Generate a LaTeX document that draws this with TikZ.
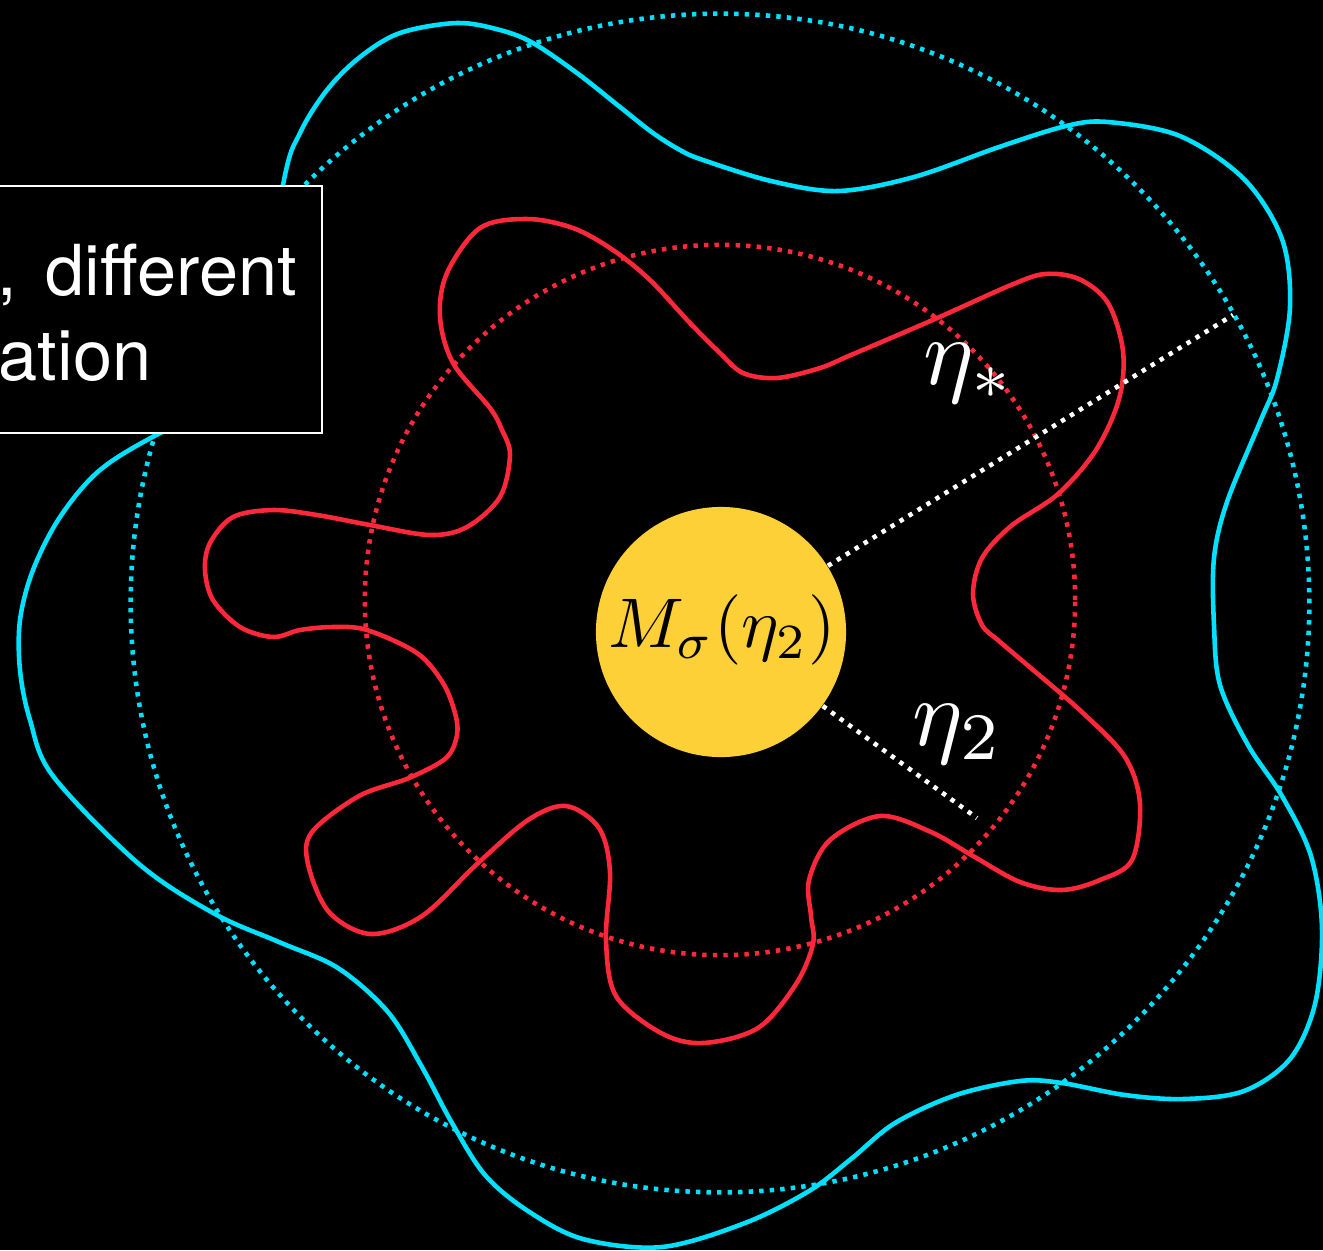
\documentclass[tikz,border=0pt]{standalone}
\usepackage{fontspec}
\newfontfamily\boxfont{TeX Gyre Heros}
\definecolor{redc}{RGB}{255,40,58}
\definecolor{cyanc}{RGB}{0,224,255}
\definecolor{yellowc}{RGB}{254,208,55}
\tikzset{
  dotline/.style={line width=1.3pt, dash pattern=on 1.25pt off 1.75pt},
  wavy/.style={line width=1.3pt, line join=round},
  lbl/.style={text=white, inner sep=0pt, scale=2.7},
  boxtext/.style={text=white, inner sep=0pt, anchor=base east, font=\boxfont\fontsize{20}{24}\selectfont},
}
\begin{document}
\begin{tikzpicture}[x=0.01cm,y=-0.01cm]
\fill[black] (0,0) rectangle (1323,1250);
\useasboundingbox (0,0) rectangle (1323,1250);
% dotted reference circles
\draw[dotline, cyanc] (720,603) circle[radius=5.89cm];
\draw[dotline, redc] (720,600) circle[radius=3.55cm];
% red wavy curve
\draw[wavy, redc] plot[smooth cycle, tension=0.55] coordinates {
(480,228) (527,219) (573,228) (613,250) (650,280) (690,323) (720,353) (743,373) (777,378) (820,368) (851,355) (935,319) (1011,285) (1045,274) (1079,279) (1108,303) (1123,351) (1119,399) (1096,450) (1058,494) (1011,526) (982,558) (973,594) (982,625) (999,641) (1032,669) (1083,713) (1125,757) (1140,804) (1132,860) (1100,880) (1062,890) (1020,882) (973,856) (931,832) (880,816) (830,840) (809,880) (811,916) (813,944) (796,984) (758,1028) (703,1043) (661,1033) (616,996) (606,940) (610,872) (599,828) (566,806) (528,820) (477,864) (422,916) (371,934) (329,912) (308,864) (312,832) (359,796) (409,778) (446,758) (457,735) (455,713) (443,683) (417,653) (367,630) (333,627) (300,630) (273,637) (240,627) (213,600) (205,570) (210,543) (233,517) (273,510) (317,515) (370,525) (430,535) (467,527) (500,497) (510,455) (502,430) (490,408) (453,363) (440,317) (447,273)};
% cyan wavy curve
\draw[wavy, cyanc] plot[smooth cycle, tension=0.55] coordinates {
(283,185) (300,133) (327,90) (360,57) (400,33) (457,23) (500,30) (533,43) (577,73) (620,107) (653,133) (680,150) (703,160) (771,181) (838,191) (914,177) (999,147) (1066,126) (1108,122) (1180,136) (1244,179) (1282,239) (1290,307) (1277,379) (1260,422) (1227,502) (1214,558) (1214,625) (1220,685) (1248,745) (1282,796) (1311,856) (1322,928) (1315,1004) (1290,1059) (1244,1091) (1184,1099) (1125,1095) (1062,1083) (1020,1081) (956,1095) (895,1123) (851,1159) (809,1191) (745,1223) (662,1247) (583,1239) (528,1211) (485,1175) (452,1123) (422,1067) (388,1012) (338,968) (279,942) (215,914) (139,864) (53,776) (30,720) (20,670) (20,620) (33,570) (60,517) (100,470) (160,433) (250,390)};
% central disc
\node[circle, fill=yellowc, minimum size=2.5cm, inner sep=0pt] (ball) at (721,632) {};
\coordinate (etastarend) at (1233,315);
\coordinate (etatwoend) at (977,818);
\draw[dotline, white] (ball) -- (etastarend);
\draw[dotline, white] (ball) -- (etatwoend);
\node[text=black, inner sep=0pt, scale=2.0] (mtext) at (722,630) {$M_\sigma(\eta_2)$};
\node[lbl, anchor=base west] (etastar) at (922,384) {$\eta_*$};
\node[lbl, anchor=base west] (etatwo) at (911,745) {$\eta_2$};
% text box
\draw[fill=black, draw=white, line width=0.6pt] (-10,186) rectangle (322,433);
\node[boxtext] (line1) at (298,295) {,\hspace{0.12em} different};
\node[boxtext] (line2) at (152,380) {ation};
\end{tikzpicture}
\end{document}
